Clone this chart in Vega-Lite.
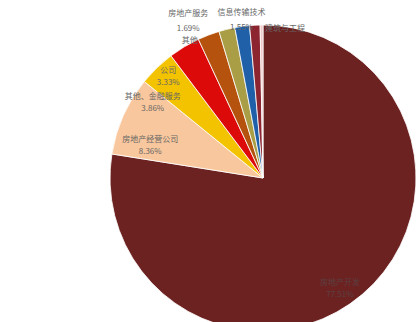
{
  "$schema": "https://vega.github.io/schema/vega-lite/v6.json",
  "width": 306,
  "height": 306,
  "autosize": "none",
  "padding": {"left": 110, "top": 25, "right": 1, "bottom": 0},
  "background": "white",
  "config": {"view": {"stroke": null}},
  "data": {
    "values": [
      {"idx": 1, "cat": "房地产开发", "value": 77.51, "label": "房地产开发\n77.51%"},
      {"idx": 2, "cat": "房地产经营公司", "value": 8.36, "label": "房地产经营公司\n8.36%"},
      {"idx": 3, "cat": "其他、金融服务", "value": 3.86, "label": "其他、金融服务\n3.86%"},
      {"idx": 4, "cat": "公司", "value": 3.33, "label": "公司\n3.33%"},
      {"idx": 5, "cat": "其他", "value": 2.3, "label": "其他"},
      {"idx": 6, "cat": "房地产服务", "value": 1.69, "label": "房地产服务\n1.69%"},
      {"idx": 7, "cat": "信息传输技术", "value": 1.55, "label": "信息传输技术\n1.55%"},
      {"idx": 8, "cat": "建筑与工程", "value": 1.1, "label": "建筑与工程"},
      {"idx": 9, "cat": "其余", "value": 0.3, "label": ""}
    ]
  },
  "encoding": {
    "theta": {"field": "value", "type": "quantitative", "stack": true},
    "order": {"field": "idx", "type": "quantitative"},
    "detail": {"field": "cat", "type": "nominal"}
  },
  "layer": [
    {
      "mark": {"type": "arc", "outerRadius": 153, "stroke": "#ffffff", "strokeWidth": 0.8},
      "encoding": {
        "color": {
          "field": "cat",
          "type": "nominal",
          "legend": null,
          "scale": {
            "domain": ["房地产开发", "房地产经营公司", "其他、金融服务", "公司", "其他", "房地产服务", "信息传输技术", "建筑与工程", "其余"],
            "range": ["#6d2222", "#f9c79d", "#f4c300", "#dd0a0a", "#b5520e", "#a99d45", "#2060a8", "#8c2530", "#f0c8c8"]
          }
        }
      }
    },
    {
      "mark": {"type": "text", "radius": 140, "dx": -14, "dy": -1, "fontSize": 8, "font": "Noto Sans CJK SC", "fill": "#5a4040", "lineBreak": "\n", "lineHeight": 12},
      "encoding": {"text": {"condition": {"test": "datum.cat === '房地产开发'", "field": "label"}, "value": ""}}
    },
    {
      "mark": {"type": "text", "radius": 117, "dx": -6, "dy": 10, "fontSize": 8, "font": "Noto Sans CJK SC", "fill": "#666666", "lineBreak": "\n", "lineHeight": 12},
      "encoding": {"text": {"condition": {"test": "datum.cat === '房地产经营公司'", "field": "label"}, "value": ""}}
    },
    {
      "mark": {"type": "text", "radius": 133, "dx": -18, "dy": 15, "fontSize": 8, "font": "Noto Sans CJK SC", "fill": "#666666", "lineBreak": "\n", "lineHeight": 12},
      "encoding": {"text": {"condition": {"test": "datum.cat === '其他、金融服务'", "field": "label"}, "value": ""}}
    },
    {
      "mark": {"type": "text", "radius": 120, "dx": -33, "dy": -4, "fontSize": 8, "font": "Noto Sans CJK SC", "fill": "#666666", "lineBreak": "\n", "lineHeight": 12},
      "encoding": {"text": {"condition": {"test": "datum.cat === '公司'", "field": "label"}, "value": ""}}
    },
    {
      "mark": {"type": "text", "radius": 150, "dx": -20, "dy": 3, "fontSize": 8, "font": "Noto Sans CJK SC", "fill": "#666666", "lineBreak": "\n", "lineHeight": 12},
      "encoding": {"text": {"condition": {"test": "datum.cat === '其他'", "field": "label"}, "value": ""}}
    },
    {
      "mark": {"type": "text", "radius": 160, "dx": -37, "dy": -9, "fontSize": 8, "font": "Noto Sans CJK SC", "fill": "#666666", "lineBreak": "\n", "lineHeight": 15},
      "encoding": {"text": {"condition": {"test": "datum.cat === '房地产服务'", "field": "label"}, "value": ""}}
    },
    {
      "mark": {"type": "text", "radius": 158, "dx": 0, "dy": -8, "fontSize": 8, "font": "Noto Sans CJK SC", "fill": "#666666", "lineBreak": "\n", "lineHeight": 15},
      "encoding": {"text": {"condition": {"test": "datum.cat === '信息传输技术'", "field": "label"}, "value": ""}}
    },
    {
      "mark": {"type": "text", "radius": 150, "dx": 10, "dy": 1, "align": "left", "fontSize": 8, "font": "Noto Sans CJK SC", "fill": "#666666", "lineBreak": "\n", "lineHeight": 12},
      "encoding": {"text": {"condition": {"test": "datum.cat === '建筑与工程'", "field": "label"}, "value": ""}}
    }
  ]
}
